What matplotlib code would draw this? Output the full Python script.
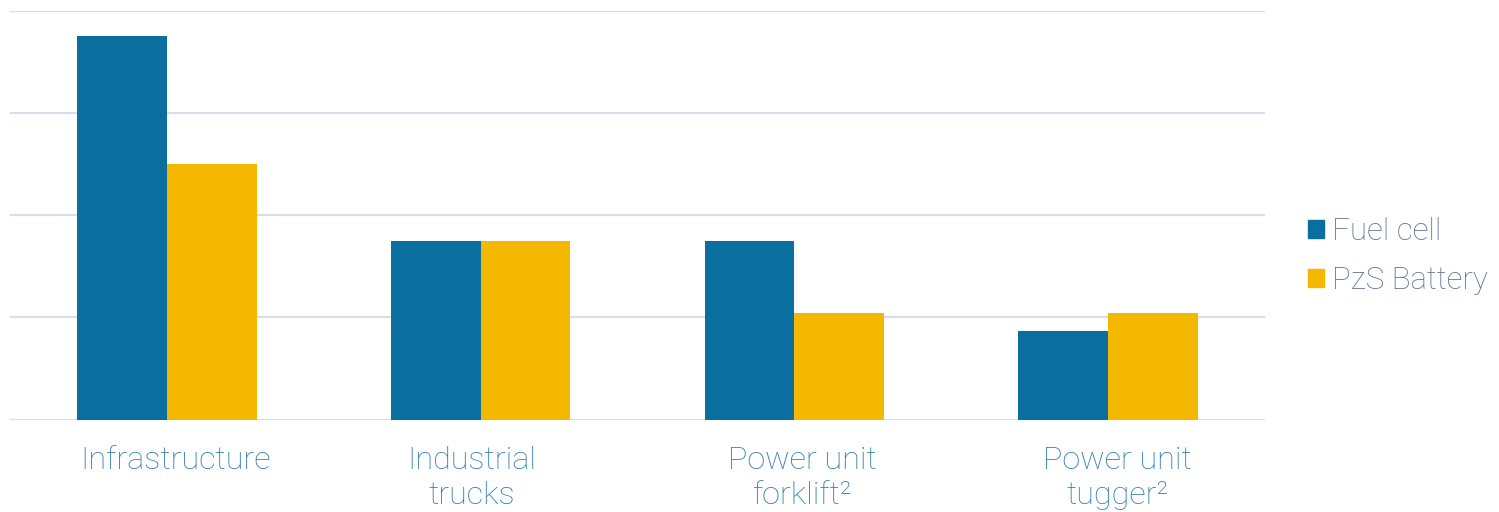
import matplotlib
matplotlib.use("Agg")
import matplotlib.pyplot as plt
import matplotlib.transforms as mtransforms
import numpy as np
from matplotlib.patches import Patch

categories = ["Infrastructure", "Industrial\ntrucks", "Power unit\nforklift²", "Power unit\ntugger²"]
series_names = ["Fuel cell", "PzS Battery"]
fuel_cell = [3.75, 1.75, 1.75, 0.87]
pzs_battery = [2.5, 1.75, 1.04, 1.04]
colors = ["#0a6e9e", "#f5b800"]
label_dx_px = [9, -9, 8, 9]

plt.rcParams['font.family'] = ['Roboto', 'DejaVu Sans']

fig = plt.figure(figsize=(14.99, 5.12), dpi=100)
ax = fig.add_axes([10/1499, (512-419.5)/512, (1265-10)/1499, (419.5-10.5)/512])

x = np.arange(len(categories))
w = 0.2857
ax.bar(x - w/2, fuel_cell, w, color=colors[0], zorder=3)
ax.bar(x + w/2, pzs_battery, w, color=colors[1], zorder=3)

ax.set_xlim(-0.5, len(categories) - 0.5)
ax.set_ylim(0, 4)
ax.set_yticks([0, 1, 2, 3, 4])
ax.yaxis.grid(True, color="#d5dfeb", linewidth=1.5, zorder=0)
ax.set_yticklabels([])
ax.tick_params(axis='y', length=0)
ax.tick_params(axis='x', length=0, pad=19)
for s in ax.spines.values():
    s.set_visible(False)
ax.set_xticks(x)
ax.set_xticklabels(categories, fontsize=23.3, color="#2f7fae", linespacing=1.25,
                   fontweight='light')
for lbl, dx in zip(ax.get_xticklabels(), label_dx_px):
    lbl.set_transform(lbl.get_transform() + mtransforms.ScaledTranslation(dx/100, 0, fig.dpi_scale_trans))

handles = [Patch(color=c) for c in colors]
fig.legend(handles, series_names, loc="center left", bbox_to_anchor=(1308/1499, 1 - 256/512),
           frameon=False, labelcolor="#5a7096", handlelength=0.5, handleheight=0.5,
           handletextpad=0.26, labelspacing=0.62, borderpad=0, borderaxespad=0,
           prop={'weight': 'light', 'size': 22.5})

fig.savefig("out.png", dpi=100)
